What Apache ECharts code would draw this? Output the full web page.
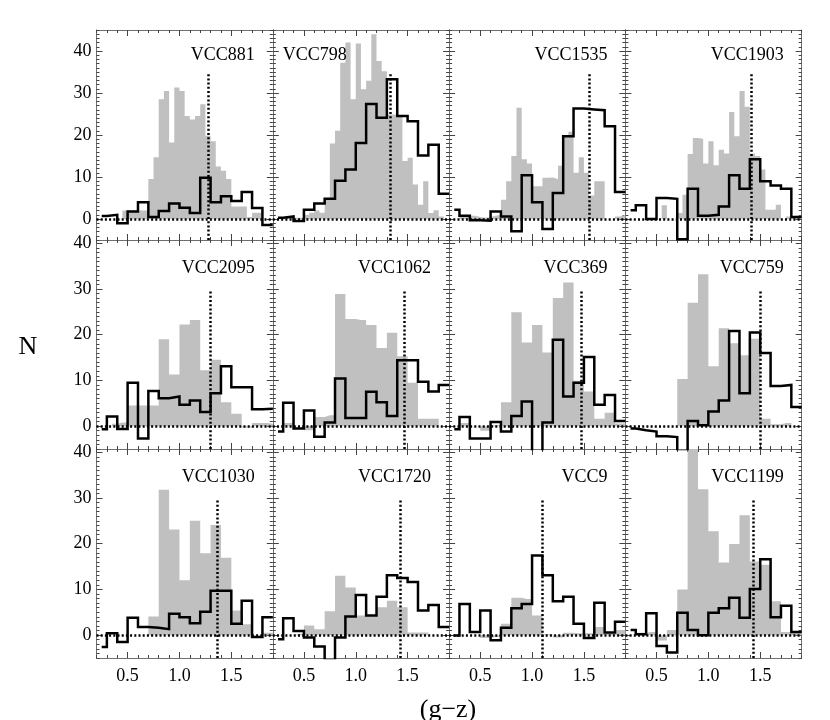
<!DOCTYPE html>
<html>
<head>
<meta charset="utf-8">
<title>(g-z) colour histograms</title>
<script src="https://cdn.jsdelivr.net/npm/echarts@6.0.0/dist/echarts.min.js"></script>
<style>
  html, body { margin: 0; padding: 0; background: #fff; }
  #chart { width: 830px; height: 720px; }
</style>
</head>
<body>
<div id="chart"></div>
<script>
// panels, read row by row
const panelNames = ['VCC881', 'VCC798', 'VCC1535', 'VCC1903',
                    'VCC2095', 'VCC1062', 'VCC369', 'VCC759',
                    'VCC1030', 'VCC1720', 'VCC9', 'VCC1199'];

// x of the dotted vertical line in each panel
const refLineX = [1.28, 1.335, 1.55, 1.41, 1.30, 1.47, 1.475, 1.50, 1.365, 1.425, 1.10, 1.43];
// top of the dotted line, per row
const refLineTop = [35, 29.5, 29.5];

// grey histogram, 0.05 bins from 0.20 to 1.90
const grayValues = [
  [0,0,0,0,0,2,2,2,2,2,9.5,14.7,28.5,30.5,18.2,31.3,30.5,24.5,23.7,24.5,27.3,19.8,18.5,12.5,11.5,9.5,3,3,3,0.5,1.5,1.5,0,0],
  [0,0.5,0.5,0.8,0.3,0.3,1.0,1.5,2.0,1.5,5,18,21,37.2,42,28.5,41.8,30.9,32.9,44,37.6,35.2,24.9,24.9,24.5,13.8,14.6,8.2,3.4,9,1.4,2.1,0.6,0],
  [0,0,0.5,0.8,0.8,0.5,0.3,0.5,0.8,1.0,4.6,9,15,26.5,14.2,13.2,7.8,7.8,9.8,9.9,9.5,12.7,19.7,20.8,11,14.7,11,5.6,9,9,0,0,0.6,1],
  [0,0,0,0,0,0,0,3.3,0,0,1.4,5.8,15.5,19.3,19.1,13.2,18.5,12.8,16.5,15.6,25.5,19.7,30.5,26.7,15.6,15,11.8,2.2,2.2,3.4,0,0.6,0.8,0.8],
  [0,0,0,0.5,0.8,0.8,4.5,4.5,4.5,4.5,4.5,4.5,19,19,11.3,11.3,22.2,22.2,23.2,23.2,12.2,12.2,14.5,14.5,5.2,5.2,2.7,2.7,-0.3,-0.3,0.7,0.7,0.7,0.5],
  [0,0,0.7,0.7,0,0,-0.9,-0.9,2,2,2.4,2.4,28.9,28.9,23.4,23.4,23.2,23.2,22.1,22.1,17.1,17.1,20.4,20.4,15.3,15.3,9.5,9.5,1.6,1.6,1.6,1.6,-0.1,0],
  [0,0,0.7,0.7,-0.1,-0.1,-1,-1,0.2,0.2,5.2,5.2,24.9,24.9,18.3,18.3,22.1,22.1,16.1,16.1,28,28,31.4,31.4,9.9,9.9,7.6,7.6,1.6,1.6,2.9,2.9,0.6,0.6],
  [0,0,0,0,0,0,0,0,0,0,10.3,10.3,27,27,33.2,33.2,13.1,13.1,21.4,21.4,18.1,18.1,15.5,15.5,19.1,19.1,1.6,1.6,0.4,0.4,0.7,0.7,0,0],
  [0,0,0,0,0,0,0,0,0,0,4.1,4.1,31.8,31.8,23.1,23.1,12,12,25,25,17.9,17.9,24.1,24.1,16.9,16.9,5.4,5.4,2.4,2.4,0,0,0.5,0.5],
  [0,0,0,0,0.3,0.3,2.1,2.1,1.3,1.3,5.2,5.2,13,13,10.4,10.4,4.3,4.3,4.3,4.3,6.1,6.1,7.5,7.5,6.1,6.1,0.6,0.6,0.6,0.6,0,0,0,0],
  [0,0,0,0,0,0,-0.6,-0.6,-0.4,-0.4,2.5,2.5,8.2,8.2,7.9,7.9,4.3,4.3,0.2,0.2,-0.5,-0.5,0.5,0.5,0.4,0.4,0.4,0.4,1.8,1.8,0.4,0.4,1.1,1.1],
  [0,0,0.5,0.5,0.7,0.7,-1.2,-1.2,1.1,1.1,10,10,42,42,31.9,31.9,22.7,22.7,15.9,15.9,19.9,19.9,26.2,26.2,16.1,16.1,15.4,15.4,7.4,7.4,0.7,0.7,0.7,0.7]
];

// black histogram, first bin 0.25-0.30 then 0.1 bins up to 1.90
const blackEdges = [0.25, 0.3, 0.4, 0.5, 0.6, 0.7, 0.8, 0.9, 1.0, 1.1, 1.2, 1.3, 1.4, 1.5, 1.6, 1.7, 1.8, 1.9];
const blackValues = [
  [0.7,1.0,-1.0,1.8,4.0,0.5,1.9,3.7,2.7,1.4,9.8,4.0,5.4,4.3,6.4,2.6,-1.4],
  [0.3,0.6,-0.5,2.2,3.7,4.8,9.1,11.8,18.1,27.4,24.1,33.3,24.5,23.3,15.1,17.7,6.0],
  [2.2,0.8,-0.3,-0.4,1.8,0.6,-2.9,10.4,4.0,-2.4,6.2,19.7,26.3,26.1,25.9,22.1,6.4],
  [2.1,3.3,0,5,4.8,-4.8,7.2,0.8,1.0,3.0,10.4,7.2,14.2,9.0,8.0,7.2,0.5],
  [-0.7,2.1,-0.6,9.5,-2.7,7.7,6.1,6.5,4.7,5.6,3.1,7.2,13.1,8.5,8.5,3.7,3.8],
  [-1.2,5.1,-0.5,3.4,-2.3,0.8,10.4,1.8,1.8,7.5,5.2,2.2,14.4,14.4,9.7,7.6,9.0],
  [-0.7,2.0,-2.7,-2.7,0.9,-1.2,2.2,5.4,-6,0.8,18.9,6.5,9.5,15.1,4.7,6.8,1.1],
  [-0.5,-0.9,-1.2,-2.2,-2.4,-5.5,1.1,0.2,3.2,5.6,20.8,7.2,20.5,16,8.8,9.0,4.2],
  [-2.6,0.4,-1.5,3.8,1.8,1.6,1.3,4.7,3.9,2.6,5.1,9.7,9.7,2.5,7.5,-0.4,3.9],
  [-0.9,3.7,0.9,-0.5,-2.5,-5.5,-0.5,4.1,8.8,4.3,8.4,13.1,12.5,11.6,5.4,6.6,1.8],
  [-0.1,6.8,0.7,5.4,-1.1,1.6,5.9,6.8,17.4,13.1,7.4,8.4,2.5,-0.6,7.1,0.6,2.9],
  [1.1,0.2,4.8,-2.4,-3.8,4.9,1.1,0,4.9,5.9,8.2,3.8,10.1,16.6,3.9,6.4,0.7]
];

const xTickLabels = [0.5, 1.0, 1.5];
const yTickLabels = [0, 10, 20, 30, 40];
const yMaxByRow = [45, 40.7, 40.7];

// layout (px)
const panelLeft0 = 96.5;
const panelW = 176.3;
const rowEdges = [30, 240, 449, 658];
const FONT = 'Liberation Serif';
const FRAME = '#6e6e6e';

// bin edges of the grey histogram
const grayEdges = [];
for (let k = 0; k <= 34; k++) grayEdges.push(Math.round(20 + 5 * k) / 100);

// minor tick positions
const xMinor = [];
for (let k = 2; k <= 19; k++) if (k % 5 !== 0) xMinor.push(k / 10);
const yMinor = [];
for (let v = -5; v <= 45; v++) if (v % 10 !== 0) yMinor.push(v);

function stepPoints(edges, values) {
  const pts = [];
  values.forEach((v, i) => {
    pts.push([edges[i], v], [edges[i + 1], v]);
  });
  return pts;
}

function xAx(gridIndex, position, ticks, len, showLine, showLabel) {
  return {
    type: 'value', gridIndex, position, min: 0.2, max: 1.9,
    axisLine: { show: showLine, onZero: false, lineStyle: { color: FRAME, width: 1 } },
    axisTick: { show: true, inside: true, length: len, customValues: ticks, lineStyle: { color: '#444', width: 1 } },
    axisLabel: {
      show: showLabel, customValues: xTickLabels, margin: 9,
      formatter: v => v.toFixed(1), color: '#000', fontFamily: FONT, fontSize: 18
    },
    splitLine: { show: false }
  };
}

function yAx(gridIndex, position, yMax, ticks, len, showLine, showLabel) {
  return {
    type: 'value', gridIndex, position, min: -5, max: yMax,
    axisLine: { show: showLine, onZero: false, lineStyle: { color: FRAME, width: 1 } },
    axisTick: { show: true, inside: true, length: len, customValues: ticks.filter(v => v <= yMax), lineStyle: { color: '#444', width: 1 } },
    axisLabel: {
      show: showLabel, customValues: yTickLabels, margin: 5,
      formatter: v => String(v), color: '#000', fontFamily: FONT, fontSize: 18
    },
    splitLine: { show: false }
  };
}

const grid = [], xAxis = [], yAxis = [], series = [], graphic = [];

panelNames.forEach((name, p) => {
  const r = Math.floor(p / 4), c = p % 4;
  const left = panelLeft0 + c * panelW;
  const top = rowEdges[r];
  const h = rowEdges[r + 1] - rowEdges[r];
  const yMax = yMaxByRow[r];

  // main grid (frame, major ticks, labels, data) + twin grid for the minor ticks
  grid.push({ left, top, width: panelW, height: h, outerBoundsMode: 'none' });
  grid.push({ left, top, width: panelW, height: h, outerBoundsMode: 'none' });
  const gMain = 2 * p, gMinor = 2 * p + 1;

  xAxis.push(xAx(gMain, 'bottom', xTickLabels, 6, true, r === 2));
  xAxis.push(xAx(gMain, 'top', xTickLabels, 6, true, false));
  xAxis.push(xAx(gMinor, 'bottom', xMinor, 3, false, false));
  xAxis.push(xAx(gMinor, 'top', xMinor, 3, false, false));

  yAxis.push(yAx(gMain, 'left', yMax, yTickLabels, 6, true, c === 0));
  yAxis.push(yAx(gMain, 'right', yMax, yTickLabels, 6, true, false));
  yAxis.push(yAx(gMinor, 'left', yMax, yMinor, 3, false, false));
  yAxis.push(yAx(gMinor, 'right', yMax, yMinor, 3, false, false));

  series.push({
    type: 'line', xAxisIndex: 4 * p, yAxisIndex: 4 * p,
    data: stepPoints(grayEdges, grayValues[p]),
    symbol: 'none', silent: true, z: 1,
    lineStyle: { width: 0 },
    areaStyle: { color: '#c0c0c0', opacity: 1, origin: 'auto' }
  });
  series.push({
    type: 'line', xAxisIndex: 4 * p, yAxisIndex: 4 * p,
    data: stepPoints(blackEdges, blackValues[p]),
    symbol: 'none', silent: true, z: 3,
    lineStyle: { color: '#000', width: 2.5, join: 'miter' },
    markLine: {
      silent: true, symbol: ['none', 'none'], z: 4,
      label: { show: false },
      lineStyle: { color: '#000', type: [2, 2.2], width: 2.5, cap: 'butt' },
      data: [
        { yAxis: 0 },
        [{ coord: [refLineX[p], -5] }, { coord: [refLineX[p], refLineTop[r]] }]
      ]
    }
  });

  // panel name
  const labelY = top + (r === 0 ? 25 : 28);
  graphic.push({
    type: 'text', z: 100,
    x: name === 'VCC798' ? left + 10 : left + panelW - 18,
    y: labelY,
    style: {
      text: name, fill: '#000', font: '18px "Liberation Serif"',
      textAlign: name === 'VCC798' ? 'left' : 'right', textVerticalAlign: 'middle'
    }
  });
});

// axis titles
graphic.push({
  type: 'text', z: 100, x: 28, y: 347,
  style: { text: 'N', fill: '#000', font: '26px "Liberation Serif"', textAlign: 'center', textVerticalAlign: 'middle' }
});
graphic.push({
  type: 'text', z: 100, x: 448, y: 697,
  style: { text: '(g\u2212z)', fill: '#000', font: '26px "Liberation Serif"', textAlign: 'center', textVerticalAlign: 'top' }
});

const chart = echarts.init(document.getElementById('chart'), null, { renderer: 'canvas' });
chart.setOption({
  animation: false,
  backgroundColor: '#fff',
  textStyle: { fontFamily: FONT },
  grid, xAxis, yAxis, series, graphic
});
</script>
</body>
</html>
